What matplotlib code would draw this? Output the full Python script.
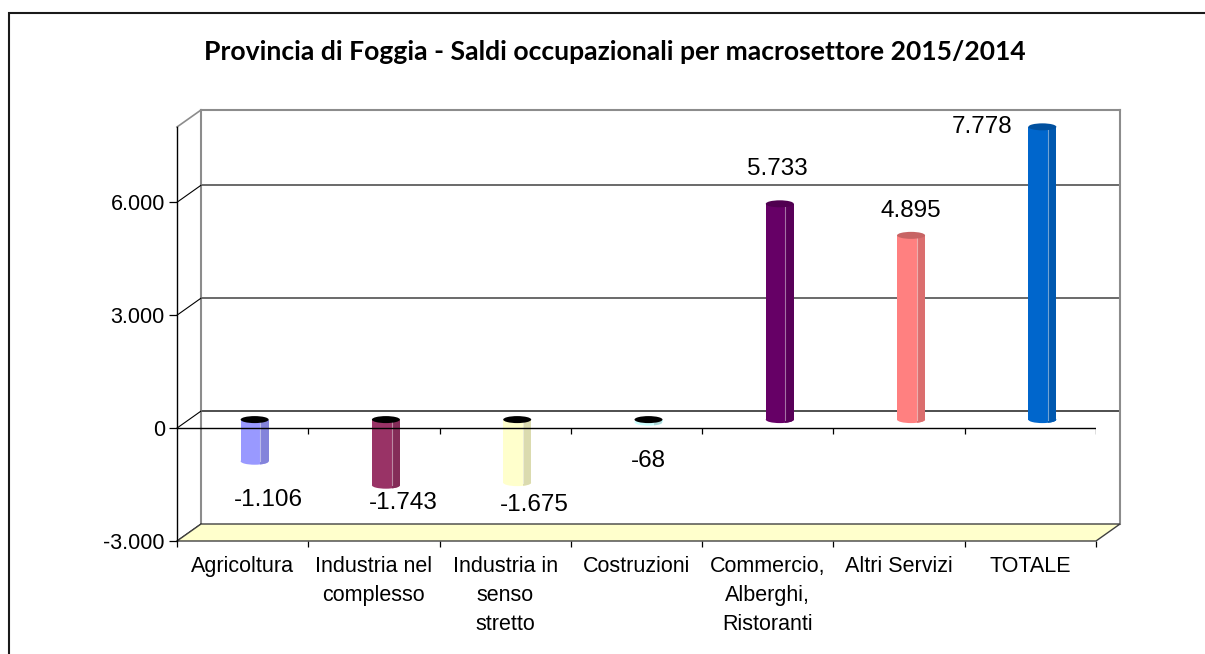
import matplotlib
matplotlib.use('Agg')
import matplotlib.pyplot as plt
import matplotlib.colors as mcolors
from matplotlib.patches import Rectangle, Ellipse, Polygon

# dati
categorie = ['Agricoltura', 'Industria nel\ncomplesso', 'Industria in\nsenso\nstretto',
             'Costruzioni', 'Commercio,\nAlberghi,\nRistoranti', 'Altri Servizi', 'TOTALE']
saldi = [-1106, -1743, -1675, -68, 5733, 4895, 7778]
etichette = ['-1.106', '-1.743', '-1.675', '-68', '5.733', '4.895', '7.778']
colori = ['#9999FF', '#993366', '#FFFFCC', '#CCFFFF', '#660066', '#FF8080', '#0066CC']
yticks = [-3000, 0, 3000, 6000]
ytick_labels = ['-3.000', '0', '3.000', '6.000']
titolo = 'Provincia di Foggia - Saldi occupazionali per macrosettore 2015/2014'

# spostamento etichette (pixel) rispetto alla fine del cilindro
spost = [(14, -39), (17, -18), (17, -22), (0, -39), (-2, 35), (0, 24), (-60, 0)]

W, H = 1205, 654
fig = plt.figure(figsize=(W / 100, H / 100), dpi=100)
ax = fig.add_axes([177 / W, 113 / H, 919 / W, 414 / H])
ymin, ymax = -3000, 8000
ax.set_xlim(0, 7)
ax.set_ylim(ymin, ymax)

px_y = 414 / (ymax - ymin)      # pixel per unita' y
px_x = 919 / 7                  # pixel per categoria
ddx = 24 / px_x                 # profondita' 3D
ddy = 17 / px_y
bw = 28 / px_x                  # larghezza cilindro
eh = 7 / px_y                   # altezza ellisse

# parete di fondo
for v in [3000, 6000]:
    ax.plot([ddx, 7 + ddx], [v + ddy, v + ddy], color='#505050', lw=1.2, zorder=1, clip_on=False)
ax.plot([ddx, 7 + ddx], [ddy, ddy], color='#303030', lw=1.2, zorder=1, clip_on=False)
ax.plot([ddx, 7 + ddx], [ymax + ddy, ymax + ddy], color='#8c8c8c', lw=1.5, zorder=1, clip_on=False)
for xx in [ddx, 7 + ddx]:
    ax.plot([xx, xx], [ymin + ddy, ymax + ddy], color='#8c8c8c', lw=1.5, zorder=1, clip_on=False)
# diagonali parete laterale
for v in yticks:
    ax.plot([0, ddx], [v, v + ddy], color='black', lw=0.8, zorder=1, clip_on=False)
ax.plot([0, ddx], [ymax, ymax + ddy], color='#8c8c8c', lw=1.2, zorder=1, clip_on=False)

# pavimento
ax.add_patch(Polygon([(0, ymin), (7, ymin), (7 + ddx, ymin + ddy), (ddx, ymin + ddy)],
                     closed=True, fc='#FFFFCC', ec='#404040', lw=1, zorder=2, clip_on=False))


def cilindro(xc, v, col):
    base = ddy / 2
    fine = v + base
    lo, hi = min(base, fine), max(base, fine)
    c = mcolors.to_rgb(col)
    scuro = tuple(k * 0.86 for k in c)
    sx = xc + bw / 2 - bw * 0.3
    ax.add_patch(Ellipse((xc, lo), bw, eh, fc=col, ec='none', zorder=4, clip_on=False))
    e2 = Ellipse((xc, lo), bw, eh, fc=scuro, ec='none', zorder=4)
    ax.add_patch(e2)
    e2.set_clip_path(Rectangle((sx, lo - eh), bw * 0.3, 2 * eh, transform=ax.transData))
    ax.add_patch(Rectangle((xc - bw / 2, lo), bw, hi - lo, fc=col, ec='none', zorder=4,
                           clip_on=False))
    ax.add_patch(Rectangle((sx, lo), bw * 0.3, hi - lo, fc=scuro, ec='none', zorder=4,
                           clip_on=False))
    ax.plot([sx, sx], [lo, hi], color='white', alpha=0.45, lw=0.8, zorder=4, clip_on=False)
    if v < 0:
        ax.add_patch(Ellipse((xc, base), bw, eh, fc='black', ec='none', zorder=5))
    else:
        ax.add_patch(Ellipse((xc, fine), bw, eh, fc=tuple(k * 0.78 for k in c),
                             ec='none', zorder=5, clip_on=False))
    return xc, fine


for i, (v, col, lab, (ox, oy)) in enumerate(zip(saldi, colori, etichette, spost)):
    xc, fine = cilindro(i + 0.5 + ddx / 2, v, col)
    ax.annotate(lab, (xc, fine), xytext=(ox, oy), textcoords='offset pixels',
                ha='center', va='center', fontsize=17.5, family='Liberation Sans',
                zorder=7, annotation_clip=False)

# asse delle categorie sullo zero
ax.plot([0, 7], [0, 0], color='black', lw=1, zorder=6)
ax.vlines(range(1, 8), -6 / px_y, 0, color='black', lw=0.9, zorder=6)

# assi
for s in ['top', 'right', 'bottom']:
    ax.spines[s].set_visible(False)
ax.spines['left'].set_color('black')
ax.spines['left'].set_linewidth(1)
ax.set_yticks(yticks)
ax.set_yticklabels(ytick_labels, family='Liberation Sans', fontsize=15.5)
ax.tick_params(axis='y', length=5.8, width=0.9, pad=2.9)
ax.set_xticks([i + 0.5 for i in range(7)])
ax.set_xticklabels(categorie, family='Liberation Sans', fontsize=15.5, linespacing=1.5)
ax.set_xticks(range(8), minor=True)
ax.tick_params(axis='x', which='major', length=0, pad=11)
ax.tick_params(axis='x', which='minor', length=4.5, width=0.9)
ax.set_facecolor('none')

# cornice del grafico
fig.add_artist(Rectangle((9 / W, -0.1), 1.2, 1.1 - 13 / H, transform=fig.transFigure,
                         fill=False, ec='#1a1a1a', lw=1.5))

# titolo, adattato alla larghezza
t = fig.text(615 / W, 1 - 52 / H, titolo, ha='center', va='center',
             fontsize=18, fontweight='bold', family='Lato')
fig.canvas.draw()
w = t.get_window_extent().width
t.set_fontsize(18 * 825 / w)

fig.savefig('out.png', dpi=100)
